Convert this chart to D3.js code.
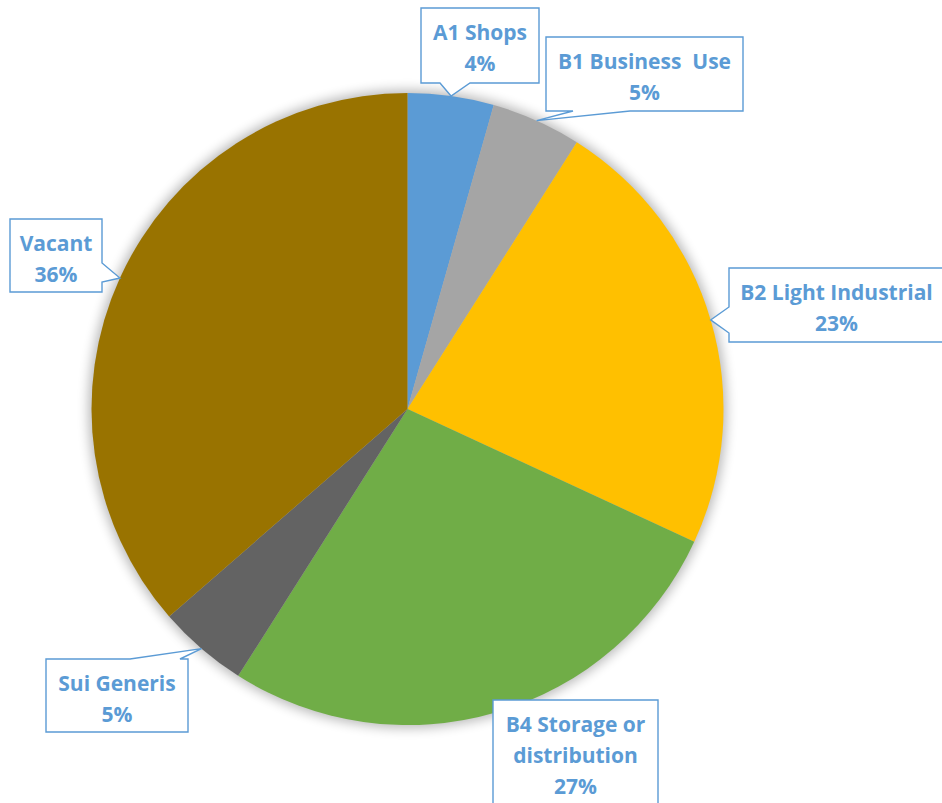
<!DOCTYPE html>
<html>
<head>
<meta charset="utf-8">
<script src="https://cdn.jsdelivr.net/npm/d3@7"></script>
<style>
  html, body { margin: 0; padding: 0; background: #ffffff; }
  svg { display: block; }
</style>
</head>
<body>
<svg id="chart" width="942" height="803"></svg>
<script>
// Land use shares (percent of floorspace), clockwise from 12 o'clock
const categories = ["A1 Shops", "B1 Business  Use", "B2 Light Industrial", "B4 Storage or distribution", "Sui Generis", "Vacant"];
const values = [4.4, 4.6, 22.9, 27.1, 4.6, 36.4];
const colors = ["#5b9bd5", "#a5a5a5", "#ffc000", "#70ad47", "#636363", "#997300"];

// Callout boxes: [x0, y0, x1, y1], the side the pointer leaves from, and the pointer base span on that side
const callouts = [
  { box: [421, 8, 539, 83], side: "bottom", base: [440, 470] },
  { box: [546, 37, 743, 111], side: "bottom", base: [573, 630] },
  { box: [729, 268, 946, 342], side: "left", base: [307, 333] },
  { box: [493, 700, 658, 812], side: null },
  { box: [46, 659, 188, 732], side: "top", base: [130, 180] },
  { box: [10, 219, 102, 292], side: "right", base: [263, 282] }
];

const W = 942, H = 803;
const cx = 407.5, cy = 409, R = 316;
const FONT = "'Open Sans', 'Liberation Sans', sans-serif";
const FS = 21, FW = 700;
const svg = d3.select("#chart");

const defs = svg.append("defs");
defs.append("filter").attr("id", "soft")
  .attr("x", "-20%").attr("y", "-20%").attr("width", "140%").attr("height", "140%")
  .append("feGaussianBlur").attr("stdDeviation", 6);

const total = d3.sum(values);
const pie = d3.pie().sort(null).value(d => d)(values);
const arc = d3.arc().innerRadius(0).outerRadius(R);
const pct = d3.format(".0%");

const g = svg.append("g").attr("transform", `translate(${cx},${cy})`);

// soft glow under the pie
g.append("circle").attr("r", R + 3).attr("fill", "#000").attr("opacity", 0.28)
  .attr("filter", "url(#soft)");

g.selectAll("path.slice").data(pie).join("path")
  .attr("class", "slice")
  .attr("d", arc)
  .attr("fill", (d, i) => colors[i]);

// Build a callout outline: the box with a wedge running out to the tip
function calloutPath(c, tip) {
  const [x0, y0, x1, y1] = c.box;
  const p = d3.path();
  const [b0, b1] = c.base || [0, 0];
  p.moveTo(x0, y0);
  if (c.side === "top") { p.lineTo(b0, y0); p.lineTo(tip[0], tip[1]); p.lineTo(b1, y0); }
  p.lineTo(x1, y0);
  if (c.side === "right") { p.lineTo(x1, b0); p.lineTo(tip[0], tip[1]); p.lineTo(x1, b1); }
  p.lineTo(x1, y1);
  if (c.side === "bottom") { p.lineTo(b1, y1); p.lineTo(tip[0], tip[1]); p.lineTo(b0, y1); }
  p.lineTo(x0, y1);
  if (c.side === "left") { p.lineTo(x0, b1); p.lineTo(tip[0], tip[1]); p.lineTo(x0, b0); }
  p.closePath();
  return p.toString();
}

const labels = svg.append("g");
pie.forEach((d, i) => {
  const c = callouts[i];
  const mid = (d.startAngle + d.endAngle) / 2;
  const tp = d3.pointRadial(mid, R);
  const tip = [cx + tp[0], cy + tp[1]];
  const lg = labels.append("g");
  lg.append("path")
    .attr("d", calloutPath(c, tip))
    .attr("fill", "#ffffff")
    .attr("stroke", "#5b9bd5")
    .attr("stroke-width", 1.4);

  const [x0, y0, x1, y1] = c.box;
  const mx = (x0 + Math.min(x1, W + 2)) / 2;
  const text = lg.append("text")
    .attr("text-anchor", "middle")
    .attr("font-family", FONT)
    .attr("font-weight", FW)
    .attr("font-size", FS)
    .attr("fill", "#5b9bd5");

  // wrap the category name to the box width when it has no pointer room
  const maxW = (x1 - x0) - 16;
  const words = categories[i].split(" ").filter(w => w.length);
  const lines = [];
  let line = "";
  const probe = lg.append("text").attr("font-family", FONT)
    .attr("font-weight", FW).attr("font-size", FS).attr("visibility", "hidden");
  const full = categories[i];
  if (probe.text(full).node().getComputedTextLength() <= maxW || c.side !== null) {
    lines.push(full);
  } else {
    words.forEach(w => {
      const t = line ? line + " " + w : w;
      if (probe.text(t).node().getComputedTextLength() > maxW && line) { lines.push(line); line = w; }
      else line = t;
    });
    if (line) lines.push(line);
  }
  probe.remove();
  lines.push(pct(values[i] / total));

  const lh = 31;
  const firstBase = y0 + 32;
  lines.forEach((t, k) => {
    text.append("tspan").attr("x", mx).attr("y", firstBase + k * lh)
      .attr("xml:space", "preserve").text(t);
  });
});
</script>
</body>
</html>
